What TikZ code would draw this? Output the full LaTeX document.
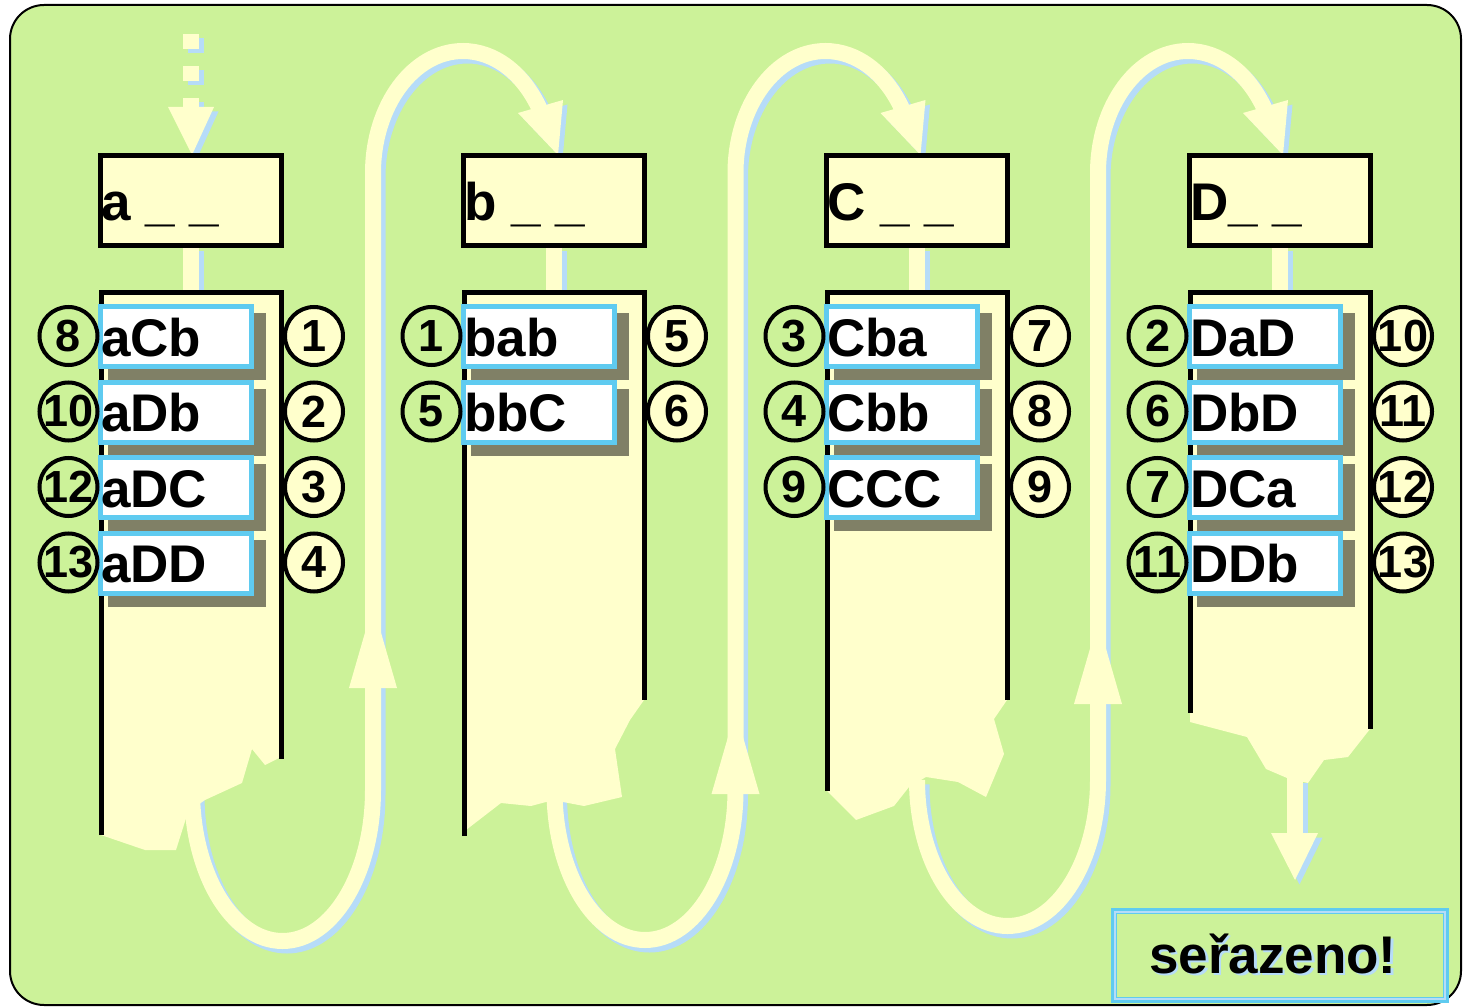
\documentclass[tikz,border=0pt]{standalone}
\usepackage{fontspec}
\setmainfont{Liberation Sans}
\definecolor{bggreen}{RGB}{204,242,153}
\definecolor{paleyel}{RGB}{255,255,204}
\definecolor{shblue}{RGB}{182,220,248}
\definecolor{itemcyan}{RGB}{95,203,240}
\definecolor{itemshadow}{RGB}{128,128,102}
\tikzset{
 flow/.style={line width=16pt},
 colline/.style={line width=5pt, black, line join=miter},
 itembox/.style={rectangle, draw=itemcyan, line width=5pt, fill=white, minimum width=151pt, minimum height=60pt, inner sep=0pt, outer sep=0pt},
 itemtext/.style={inner sep=0pt, font=\fontsize{53}{60}\selectfont\bfseries},
 numtext/.style={inner sep=0pt, font=\fontsize{45}{50}\selectfont\bfseries},
 lcirc/.style={circle, draw=black, line width=4pt, minimum size=58pt, inner sep=0pt},
 rcirc/.style={lcirc, fill=paleyel},
 hdrbox/.style={rectangle, draw=black, line width=5pt, fill=paleyel, minimum width=181pt, minimum height=90pt, inner sep=0pt, outer sep=0pt},
 hdrtext/.style={inner sep=0pt, font=\fontsize{53}{60}\selectfont\bfseries},
}
\newcommand\mkitem[6]{%
 \pgfmathsetmacro\itemtop{304+75.5*#3}%
 \fill[itemshadow] ({#2+10},{-\itemtop-9}) rectangle ({#2+168},{-\itemtop-76});
 \node[itembox, anchor=north west] (box#1) at ({#2+2.5},{-\itemtop-2.5}) {};
 \node[itemtext, anchor=base west] (txt#1) at ({#2+3},{-\itemtop-52}) {#5};
 \node[lcirc] (lc#1) at ({#2-29.5},{-\itemtop-32}) {};
 \node[numtext] (ln#1) at (lc#1) {#4};
 \node[rcirc] (rc#1) at ({#2+216},{-\itemtop-32}) {};
 \node[numtext] (rn#1) at (rc#1) {#6};
}
\begin{document}
\begin{tikzpicture}[x=1pt,y=1pt]
\useasboundingbox (0,0) rectangle (1470,-1008);
\fill[white] (0,0) rectangle (1470,-1008);
\draw[fill=bggreen, line width=2pt, rounded corners=34pt] (10,-5) rectangle (1461,-1005);

% flows: shadow layer then yellow layer
\foreach \sx/\sy/\cl in {4.5/-4.5/shblue, 0/0/paleyel}{
 \begin{scope}[shift={(\sx,\sy)}]
  \draw[flow, \cl, dash pattern=on 15pt off 17pt] (191,-34) -- (191,-107);
  \fill[\cl] (168,-107) -- (214,-107) -- (192,-155) -- cycle;
  \foreach \k/\cy/\ry in {0/790/151, 1/790/150, 2/780/146}{
   \draw[flow, \cl] ({192+362.5*\k},-\cy) arc[start angle=180, end angle=360, x radius=90.5pt, y radius=\ry pt]
     -- ({373+362.5*\k},-173) arc[start angle=180, end angle=32, x radius=90pt, y radius=122pt];
   \fill[\cl] ({518+362.5*\k},-113) -- ({558+362.5*\k},-155) -- ({563+362.5*\k},-100) -- cycle;
  }
  \foreach \k in {0,...,3}{
   \draw[flow, \cl] ({191+363*\k},-247) -- ({191+363*\k},-291);
  }
  \draw[flow, \cl] (1295,-778) -- (1295,-834);
  \fill[\cl] (1271,-833) -- (1318,-833) -- (1295,-880) -- cycle;
 \end{scope}
}
% upward arrowheads
\foreach \cx/\by in {373/688, 735.5/794, 1098/704}{
 \fill[paleyel] ({\cx-24},{-\by}) -- ({\cx+24},{-\by}) -- (\cx,{-\by+83}) -- cycle;
}

% columns
\fill[paleyel] (101,-292) -- (281,-292) -- (281,-757) -- (265,-765) -- (252,-749) -- (242,-783) -- (205,-800) -- (188,-812) -- (176,-850) -- (145,-850) -- (101,-835) -- cycle;
\draw[colline] (101,-835) -- (101,-292.5) -- (281,-292.5) -- (281,-759);
\fill[paleyel] (464,-292) -- (644,-292) -- (644,-700) -- (630,-720) -- (615,-749) -- (622,-797) -- (584,-806) -- (563,-802) -- (546,-802) -- (531,-806) -- (501,-803) -- (466,-830) -- (464,-836) -- cycle;
\draw[colline] (464,-836) -- (464,-292.5) -- (644,-292.5) -- (644,-700);
\fill[paleyel] (827,-292) -- (1007,-292) -- (1007,-700) -- (994,-719) -- (1004,-754) -- (986,-797) -- (958,-782) -- (926,-777) -- (909,-787) -- (894,-806) -- (856,-820) -- (827,-791) -- cycle;
\draw[colline] (827,-791) -- (827,-292.5) -- (1007,-292.5) -- (1007,-700);
\fill[paleyel] (1190,-292) -- (1370,-292) -- (1370,-729) -- (1348,-757) -- (1324,-760) -- (1308,-783) -- (1287,-778) -- (1266,-769) -- (1247,-737) -- (1190,-722) -- cycle;
\draw[colline] (1190,-713) -- (1190,-292.5) -- (1370,-292.5) -- (1370,-729);

% items
\mkitem{a1}{98}{0}{8}{aCb}{1}
\mkitem{a2}{98}{1}{10}{aDb}{2}
\mkitem{a3}{98}{2}{12}{aDC}{3}
\mkitem{a4}{98}{3}{13}{aDD}{4}
\mkitem{b1}{461}{0}{1}{bab}{5}
\mkitem{b2}{461}{1}{5}{bbC}{6}
\mkitem{c1}{824}{0}{3}{Cba}{7}
\mkitem{c2}{824}{1}{4}{Cbb}{8}
\mkitem{c3}{824}{2}{9}{CCC}{9}
\mkitem{d1}{1187}{0}{2}{DaD}{10}
\mkitem{d2}{1187}{1}{6}{DbD}{11}
\mkitem{d3}{1187}{2}{7}{DCa}{12}
\mkitem{d4}{1187}{3}{11}{DDb}{13}

% header boxes
\node[hdrbox, anchor=north west] (hdra) at (100.5,-155.5) {};
\node[hdrtext, anchor=base west] (hta) at (101,-221) {a \_ \_};
\node[hdrbox, anchor=north west] (hdrb) at (463.5,-155.5) {};
\node[hdrtext, anchor=base west] (htb) at (464,-221) {b \_ \_};
\node[hdrbox, anchor=north west] (hdrc) at (826.5,-155.5) {};
\node[hdrtext, anchor=base west] (htc) at (827,-221) {C \_ \_};
\node[hdrbox, anchor=north west] (hdrd) at (1189.5,-155.5) {};
\node[hdrtext, anchor=base west] (htd) at (1190,-221) {D\_ \_};

% final box
\node[rectangle, draw=itemcyan, line width=6pt, minimum width=332pt, minimum height=89pt, inner sep=0pt] (done) at (1280,-955.5) {};
\draw[shblue, line width=2pt] ([shift={(4,-4)}]done.north west) rectangle ([shift={(-4,4)}]done.south east);
\node[hdrtext, anchor=base west, text=shblue] (doneshadow) at (1151.5,-975.5) {seřazeno!};
\node[hdrtext, anchor=base west] (donetext) at (1149,-973) {seřazeno!};
\end{tikzpicture}
\end{document}
